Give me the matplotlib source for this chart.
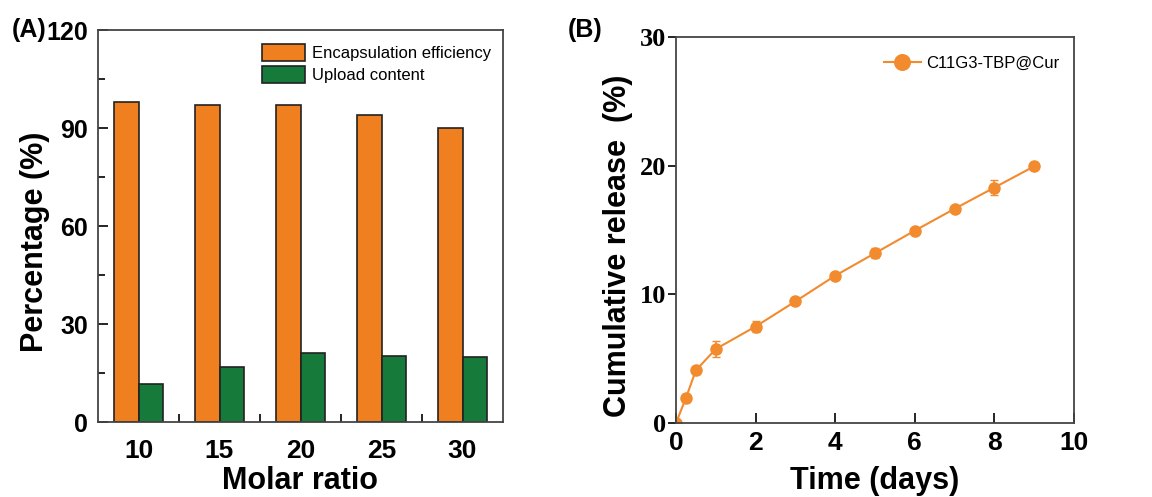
import numpy as np
import matplotlib
matplotlib.use("Agg")
import matplotlib.pyplot as plt
from matplotlib.ticker import MultipleLocator, FixedLocator

# panel A data
molar_ratio = ["10", "15", "20", "25", "30"]
encapsulation = [98, 97, 97, 94, 90]
upload = [11.5, 16.7, 21.1, 20.1, 20.0]

# panel B data
time_days = [0, 0.25, 0.5, 1, 2, 3, 4, 5, 6, 7, 8, 9]
release = [0, 1.95, 4.1, 5.75, 7.5, 9.45, 11.45, 13.2, 14.95, 16.65, 18.3, 19.95]
release_err = [0, 0.3, 0.3, 0.6, 0.4, 0.2, 0.2, 0.4, 0.2, 0.2, 0.6, 0.2]

orange = "#EF7F1F"
green = "#157A3A"
line_orange = "#F28A2E"

plt.rcParams['font.family'] = ['Liberation Sans', 'DejaVu Sans']

fig = plt.figure(figsize=(11.52, 4.97), dpi=100)
W, H = 1152, 497

# ---- (A) bar chart ----
axA = fig.add_axes([98 / W, 1 - 422 / H, 405 / W, 392 / H])
x = np.arange(len(molar_ratio))
width = 0.3
axA.bar(x - width / 2, encapsulation, width, color=orange, edgecolor="#222222",
        linewidth=1.2, label="Encapsulation efficiency")
axA.bar(x + width / 2, upload, width, color=green, edgecolor="#222222",
        linewidth=1.2, label="Upload content")
axA.set_xlim(-0.5, len(x) - 0.5)
axA.set_ylim(0, 120)
axA.set_xticks(x)
axA.set_xticklabels(molar_ratio)
axA.xaxis.set_minor_locator(FixedLocator(x[:-1] + 0.5))
axA.tick_params(axis="x", which="major", length=0, pad=12, labelsize=19)
axA.tick_params(axis="x", which="minor", direction="in", length=6, width=1.2)
axA.yaxis.set_major_locator(MultipleLocator(30))
axA.yaxis.set_minor_locator(MultipleLocator(15))
axA.tick_params(axis="y", which="both", direction="in", labelsize=18, width=1.2)
axA.tick_params(axis="y", which="major", length=7, pad=7)
axA.tick_params(axis="y", which="minor", length=5)
for lab in axA.get_xticklabels() + axA.get_yticklabels():
    lab.set_fontweight("bold")
axA.set_xlabel("Molar ratio", fontsize=22, fontweight="bold", va="center")
axA.xaxis.set_label_coords(0.5, -0.15)
axA.set_ylabel("Percentage (%)", fontsize=22, fontweight="bold", va="center")
axA.yaxis.set_label_coords(-0.155, 0.46)
for sp in axA.spines.values():
    sp.set_linewidth(1.3)
    sp.set_color("#444444")
axA.legend(loc="upper right", frameon=False, fontsize=12, handlelength=2.6,
           handleheight=1.2, borderaxespad=0.2, labelspacing=0.3,
           handletextpad=0.4, bbox_to_anchor=(0.995, 0.99))
fig.text(12 / W, 1 - 30 / H, "(A)", fontsize=18, fontweight="bold", va="center")

# ---- (B) release curve ----
axB = fig.add_axes([676 / W, 1 - 423 / H, 398 / W, 386 / H])
axB.errorbar(time_days, release, yerr=release_err, fmt="none", ecolor=line_orange,
             capsize=3, elinewidth=1.2)
axB.plot(time_days, release, color=line_orange, marker="o", markersize=8,
         linewidth=1.5, label="C11G3-TBP@Cur")
axB.set_xlim(0, 10)
axB.set_ylim(0, 30)
axB.xaxis.set_major_locator(MultipleLocator(2))
axB.yaxis.set_major_locator(MultipleLocator(10))
axB.tick_params(axis="x", direction="in", length=7, width=1.2, labelsize=19, pad=6)
axB.tick_params(axis="y", direction="out", length=6, width=1.2, pad=1)
for lab in axB.get_xticklabels():
    lab.set_fontweight("bold")
for lab in axB.get_yticklabels():
    lab.set_fontfamily(["Liberation Serif", "DejaVu Serif"])
    lab.set_fontweight("bold")
    lab.set_fontsize(19)
axB.set_xlabel("Time (days)", fontsize=22, fontweight="bold", va="center")
axB.xaxis.set_label_coords(0.5, -0.15)
axB.set_ylabel("Cumulative release  (%)", fontsize=22, fontweight="bold", va="center")
axB.yaxis.set_label_coords(-0.145, 0.46)
for sp in axB.spines.values():
    sp.set_linewidth(1.3)
    sp.set_color("#444444")
axB.legend(loc="upper right", frameon=False, fontsize=12, markerscale=1.4,
           handlelength=2.2, handletextpad=0.3, bbox_to_anchor=(1.0, 0.99))
fig.text(568 / W, 1 - 30 / H, "(B)", fontsize=18, fontweight="bold", va="center")

fig.savefig("out.png", dpi=100)
